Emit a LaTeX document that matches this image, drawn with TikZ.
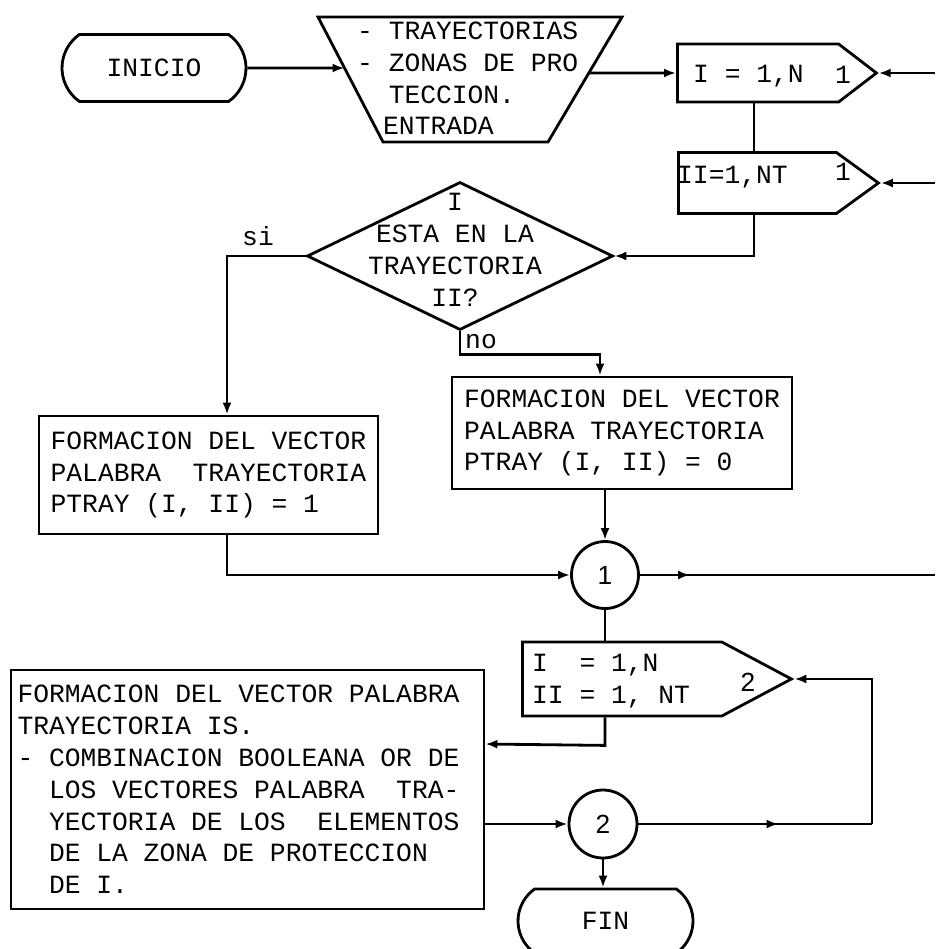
\documentclass[tikz,border=0pt]{standalone}
\usepackage{fontspec}
\setmainfont{Liberation Mono}
\newfontfamily\numfont{Liberation Sans}
\usetikzlibrary{calc,shapes.geometric,shapes.misc,shapes.symbols,arrows.meta,decorations.markings}
\newcommand\flowfont{\fontsize{26.3pt}{31.8pt}\selectfont}
\tikzset{
  every node/.style={font=\flowfont},
  lin/.style={line width=2.8pt},
  arr/.style={lin,-{Latex[length=12pt,width=9pt]}},
  midarr/.style={lin,decoration={markings,mark=at position #1 with {\arrow{Latex[length=12pt,width=9pt]}}},postaction={decorate}},
  term/.style={draw,lin,shape=rounded rectangle,rounded rectangle arc length=110,minimum width=184pt,minimum height=67pt,inner sep=0pt},
  proc/.style={draw,lin,shape=rectangle,align=left,inner sep=0pt},
  loopbox/.style={draw,lin,shape=signal,signal to=east,inner sep=0pt,anchor=west},
  conn/.style={draw,lin,shape=circle,minimum size=67pt,inner sep=0pt,font=\numfont\flowfont},
  txt/.style={inner sep=0pt,align=left},
}
\begin{document}
\begin{tikzpicture}[x=1pt,y=-1pt]
\useasboundingbox (0,0) rectangle (935,949);
\node[term] (inicio) at (154,68) {INICIO};
\coordinate (enttl) at (318,17);
\coordinate (enttr) at (622,17);
\coordinate (entbr) at (548,142);
\coordinate (entbl) at (383,142);
\draw[lin,line join=miter] (enttl) -- (enttr) -- (entbr) -- (entbl) -- cycle;
\coordinate (entin) at ($(enttl)!0.408!(entbl)$);
\coordinate (entout) at ($(enttr)!0.448!(entbr)$);
\node[txt,anchor=west] (entrada) at (357,78.5) {- TRAYECTORIAS\\- ZONAS DE PRO\\\phantom{- }TECCION.\\\hspace*{26pt}ENTRADA};
\node[loopbox,signal pointer angle=75,minimum width=199pt,minimum height=58pt] (loopa) at (676,73) {};
\node[loopbox,signal pointer angle=72,minimum width=200pt,minimum height=61pt] (loopb) at (677,183) {};
\node[txt,anchor=west] (loopatxt) at (693,76) {I = 1,N};
\node[txt] (loopanum) at (843,75) {1};
\node[txt,anchor=west] (loopbtxt) at (677,177) {II=1,NT};
\node[txt] (loopbnum) at (843,172) {1};
\node[draw,lin,shape=diamond,minimum width=306pt,minimum height=148pt,inner sep=0pt] (cond) at (460,256) {};
\node[txt,align=center] (condtxt) at (455,250) {I\\ESTA EN LA\\TRAYECTORIA\\II?};
\node[proc,minimum width=339pt,minimum height=118pt] (boxsi) at (208.5,475) {FORMACION DEL VECTOR\\PALABRA\ \ TRAYECTORIA\\PTRAY (I, II) = 1};
\node[proc,minimum width=340pt,minimum height=112pt] (boxno) at (622,433) {FORMACION DEL VECTOR\\PALABRA TRAYECTORIA\\PTRAY (I, II) = 0};
\node[conn] (cuno) at (605,575) {1};
\node[loopbox,signal pointer angle=56,minimum width=269pt,minimum height=74pt] (loopc) at (521,679) {};
\node[txt,anchor=west] (loopctxt) at (532,681) {I\ \ = 1,N\\II = 1, NT};
\node[txt,font=\numfont\flowfont] (loopcnum) at (748,682) {2};
\node[proc,text width=460pt,inner xsep=6.5pt,minimum height=239pt] (boxis) at (247.5,789.5) {\spaceskip=0pt\relax FORMACION DEL VECTOR PALABRA\\TRAYECTORIA IS.\\- COMBINACION BOOLEANA OR DE\\\phantom{- }LOS VECTORES PALABRA\ \ TRA-\\\phantom{- }YECTORIA DE LOS\ \ ELEMENTOS\\\phantom{- }DE LA ZONA DE PROTECCION\\\phantom{- }DE I.};
\node[conn,minimum size=68pt] (cdos) at (603,824) {2};
\node[term,minimum width=175pt,minimum height=64pt] (fin) at (605.5,921) {FIN};
\coordinate (ra) at (935,73);
\coordinate (rb) at (935,183);
\coordinate (ru) at (935,575);
\coordinate (rd) at (872,824);
\coordinate (xsi) at (227,0);
\coordinate (xno) at (600,0);
\coordinate (xloop) at (754,0);
\coordinate (ybig) at (0,744);
\draw[arr] (inicio.east) -- (entin);
\draw[arr] (entout) -- (loopa.west);
\draw[lin] (loopa.south -| xloop) -- (loopb.north -| xloop);
\draw[arr] (ra) -- (loopa.east);
\draw[arr] (rb) -- (loopb.east);
\draw[arr] (loopb.south -| xloop) |- (cond.east);
\draw[arr] (cond.west) -| (xsi |- boxsi.north);
\node (si) at (258,236) {si};
\draw[arr] (cond.south) -- ++(0,23) -| (xno |- boxno.north);
\node (no) at (481,342) {no};
\draw[arr] (boxno.south -| cuno.north) -- (cuno.north);
\draw[arr] (xsi |- boxsi.south) |- (cuno.west);
\draw[midarr=0.17] (cuno.east) -- (ru);
\draw[lin] (cuno.south) -- (cuno.south |- loopc.north);
\draw[arr] (cuno.south |- loopc.south) -- ++(0,28) -- (boxis.east |- ybig);
\draw[arr] (boxis.east |- cdos.west) -- (cdos.west);
\draw[midarr=0.6] (cdos.east) -- (rd);
\draw[arr] (rd) |- (loopc.east);
\draw[arr] (cdos.south) -- (cdos.south |- fin.north);
\end{tikzpicture}
\end{document}
